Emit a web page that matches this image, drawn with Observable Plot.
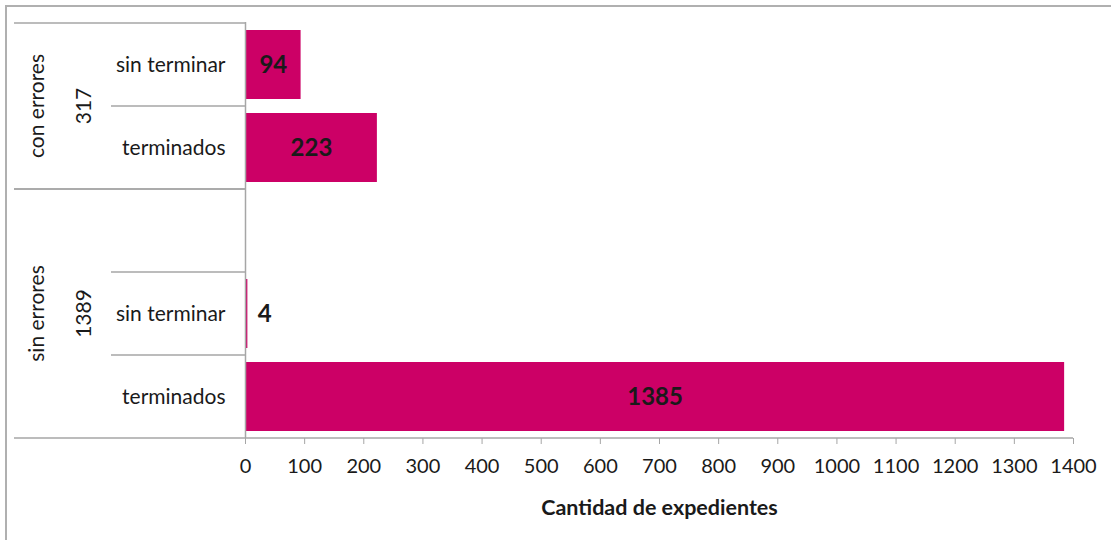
<!DOCTYPE html>
<html>
<head>
<meta charset="utf-8">
<script src="https://cdn.jsdelivr.net/npm/d3@7"></script>
<script src="https://cdn.jsdelivr.net/npm/@observablehq/plot@0.6"></script>
<style>
  html, body { margin: 0; padding: 0; background: #fff; overflow: hidden; width: 1111px; height: 540px; }
  #frame { position: absolute; left: 5px; top: 5px; width: 1200px; height: 700px; border-left: 2px solid #b0b0b0; border-top: 2px solid #b0b0b0; }
  #chart { position: absolute; left: 0; top: 0; }
</style>
</head>
<body>
<div id="frame"></div>
<div id="chart"></div>
<script>
// ---- data ----
const groups = ["con errores", "sin errores"];
const groupTotals = [317, 1389];
const statuses = ["sin terminar", "terminados"];
const conErrores = [94, 223];
const sinErrores = [4, 1385];
const xTicks = [0, 100, 200, 300, 400, 500, 600, 700, 800, 900, 1000, 1100, 1200, 1300, 1400];
const xLabel = "Cantidad de expedientes";

// slots (Excel multi-level category axis; "sin errores" has an empty slot)
const slots = [
  {group: groups[0], status: statuses[0], value: conErrores[0]},
  {group: groups[0], status: statuses[1], value: conErrores[1]},
  {group: groups[1], status: "", value: null},
  {group: groups[1], status: statuses[0], value: sinErrores[0]},
  {group: groups[1], status: statuses[1], value: sinErrores[1]}
];
slots.forEach((d, i) => d.key = d.group + "|" + d.status + "|" + i);
const bars = slots.filter(d => d.value != null);

const FONT = "Lato, 'Open Sans', sans-serif";
const COLOR = "#cc0066";
const LINE = "#a6a6a6";
const TXT = "#1a1a1a";

const plot = Plot.plot({
  width: 1111,
  height: 540,
  marginLeft: 245,
  marginRight: 38,
  marginTop: 22,
  marginBottom: 102,
  style: {fontFamily: FONT, fontSize: "20px", color: TXT, background: "transparent"},
  x: {domain: [0, 1400], label: null},
  y: {type: "band", domain: slots.map(d => d.key), paddingInner: 0, paddingOuter: 0, axis: null},
  marks: [
    Plot.barX(bars, {x: "value", y: "key", fill: COLOR, insetTop: 7, insetBottom: 7}),
    Plot.text(bars.filter(d => d.value >= 50), {x: d => d.value / 2, y: "key", text: d => String(d.value), fontSize: 24, fontWeight: "bold", fill: TXT}),
    Plot.text(bars.filter(d => d.value < 50), {x: "value", y: "key", text: d => String(d.value), fontSize: 24, fontWeight: "bold", fill: TXT, textAnchor: "start", dx: 10}),
    Plot.text(slots.filter(d => d.status), {y: "key", text: "status", frameAnchor: "left", dx: -20, textAnchor: "end", fontSize: 21, fill: TXT}),
    Plot.text([xLabel], {frameAnchor: "bottom", dy: 76, text: d => d, fontWeight: "bold", fontSize: 21.5, fill: TXT}),
    Plot.axisX({ticks: xTicks, tickFormat: d => String(d), tickSize: 6, tickPadding: 14, stroke: LINE, fill: TXT, label: null, fontSize: 20}),
    Plot.ruleX([0], {stroke: LINE, strokeWidth: 1.5})
  ]
});
document.getElementById("chart").appendChild(plot);

// multi-level category decorations using the plot's scales
const ys = plot.scale("y");
const xs = plot.scale("x");
const bw = ys.bandwidth;
const svg = d3.select(plot);
const g = svg.append("g").attr("stroke", LINE).attr("stroke-width", 1.5);
const x0 = xs.apply(0);
groups.forEach((grp, gi) => {
  const gs = slots.filter(d => d.group === grp);
  const top = ys.apply(gs[0].key);
  const bottom = ys.apply(gs[gs.length - 1].key) + bw;
  g.append("line").attr("x1", 14).attr("x2", x0).attr("y1", top).attr("y2", top);
  g.append("line").attr("x1", 14).attr("x2", gi === groups.length - 1 ? xs.apply(1400) : x0).attr("y1", bottom).attr("y2", bottom);
  gs.slice(1).forEach(d => {
    const yy = ys.apply(d.key);
    g.append("line").attr("x1", 111).attr("x2", x0).attr("y1", yy).attr("y2", yy);
  });
  const cy = (top + bottom) / 2;
  [[35, grp], [82, String(groupTotals[gi])]].forEach(([cx, t]) => {
    svg.append("text")
      .attr("transform", `translate(${cx},${cy}) rotate(-90)`)
      .attr("text-anchor", "middle")
      .attr("dominant-baseline", "central")
      .attr("font-family", FONT)
      .attr("font-size", 21)
      .attr("fill", TXT)
      .text(t);
  });
});
</script>
</body>
</html>
